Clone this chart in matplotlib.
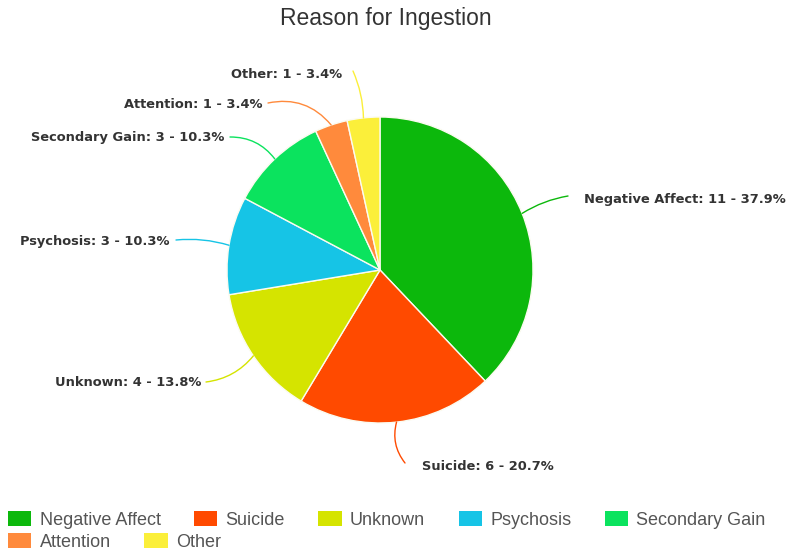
import matplotlib.pyplot as plt
from matplotlib.patches import Patch, FancyArrowPatch
import numpy as np

# data
reasons = ['Negative Affect', 'Suicide', 'Unknown', 'Psychosis',
           'Secondary Gain', 'Attention', 'Other']
counts = [11, 6, 4, 3, 3, 1, 1]
colors = ['#0cb80c', '#ff4a00', '#d5e400', '#16c4e6',
          '#0be35e', '#ff8a3c', '#fbef3a']

W, H = 796, 556
fig = plt.figure(figsize=(W / 100, H / 100), dpi=100)
ax = fig.add_axes([0, 0, 1, 1])

# pie placed in pixel units (y measured from the bottom)
cx, cy, r = 380, H - 270, 153
wedges, _ = ax.pie(counts, colors=colors, startangle=90, counterclock=False,
                   center=(cx, cy), radius=r,
                   wedgeprops=dict(edgecolor='#fbfbf0', linewidth=1))
ax.set_xlim(0, W)
ax.set_ylim(0, H)
ax.set_aspect('equal')
ax.axis('off')

total = sum(counts)

# label layout: (text x, text y from top, ha, line end x, line end y from top, curve)
label_layout = {
    'Negative Affect': (584, 200, 'left', 568, 196, 0.1),
    'Suicide': (422, 467, 'left', 405, 463, -0.25),
    'Unknown': (201, 383, 'right', 206, 382, 0.2),
    'Psychosis': (170, 242, 'right', 176, 240, -0.1),
    'Secondary Gain': (224, 137, 'right', 230, 137, -0.25),
    'Attention': (262, 105, 'right', 268, 103, -0.3),
    'Other': (342, 75, 'right', 353, 71, -0.1),
}

for w, name, c, col in zip(wedges, reasons, counts, colors):
    mid = np.deg2rad((w.theta1 + w.theta2) / 2)
    ex = w.center[0] + w.r * np.cos(mid)
    ey = w.center[1] + w.r * np.sin(mid)
    tx, ty, ha, lx, ly, rad = label_layout[name]
    ax.text(tx, H - ty, f'{name}: {c} - {c / total * 100:.1f}%', ha=ha, va='center',
            fontsize=9.4, fontweight='bold', color='#333333', family='DejaVu Sans')
    line = FancyArrowPatch((lx, H - ly), (ex, ey), arrowstyle='-',
                           connectionstyle=f'arc3,rad={rad}', color=col,
                           lw=1, shrinkA=0, shrinkB=0)
    ax.add_patch(line)

fig.text(386 / W, 1 - 18 / H, 'Reason for Ingestion', ha='center', va='center',
         fontsize=16.5, color='#333333', family='Liberation Sans')

# legend in two rows, flowing left to right
handles = [Patch(facecolor=col, edgecolor='none') for col in colors]
leg_kw = dict(loc='center left', frameon=False, borderpad=0,
              borderaxespad=0, handlelength=1.3, handleheight=0.85,
              handletextpad=0.45, columnspacing=1.85,
              prop={'family': 'Liberation Sans', 'size': 13},
              labelcolor='#555555')
fig.legend(handles[:5], reasons[:5], ncol=5,
           bbox_to_anchor=(8 / W, 1 - 520 / H), **leg_kw)
fig.legend(handles[5:], reasons[5:], ncol=2,
           bbox_to_anchor=(8 / W, 1 - 542 / H), **leg_kw)

fig.savefig('out.png', dpi=100)
